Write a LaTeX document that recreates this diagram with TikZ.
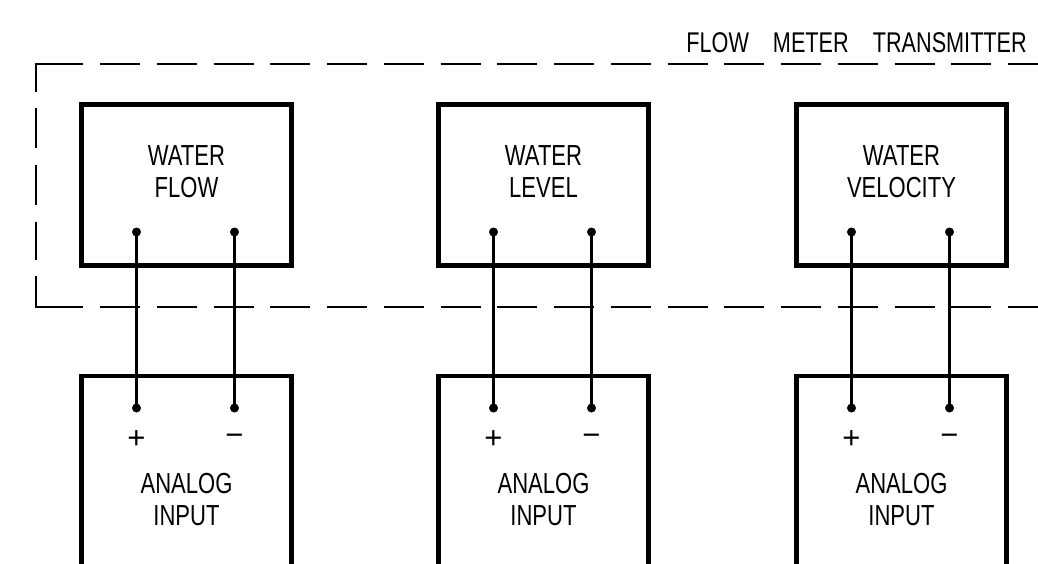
\documentclass[tikz,border=0pt]{standalone}
\usepackage{fontspec}
\setmainfont[FakeStretch=0.76]{Liberation Sans}
\newfontfamily\signfont{Liberation Sans}
\begin{document}
\begin{tikzpicture}[x=1pt,y=-1pt,
  box/.style={draw,line width=4.2pt,minimum width=210pt,inner sep=0pt},
  topbox/.style={box,minimum height=161pt},
  botbox/.style={box,minimum height=220pt},
  wire/.style={line width=2.2pt},
  frame/.style={line width=2.6pt},
  framedash/.style={frame,dash pattern=on 40pt off 16.75pt},
  dot/.style={circle,fill,inner sep=0pt,minimum size=9pt},
  lbl/.style={font=\fontsize{29}{31.5}\selectfont,align=center,inner sep=0pt},
  sgn/.style={font=\signfont\fontsize{31}{31}\selectfont,inner sep=0pt}]
\clip (0,0) rectangle (1038,563);
\useasboundingbox (0,0) rectangle (1038,563);
% dashed frame of the transmitter
\draw[frame] (83,64) -- (36,64) -- (36,92);
\draw[framedash] (100,64) -- (1040,64);
\draw[framedash] (36,108) -- (36,260);
\draw[frame] (36,276) -- (36,307) -- (83,307);
\draw[framedash] (100,307) -- (1040,307);
\node[font=\fontsize{28.5}{29}\selectfont,anchor=base east,inner sep=0pt] (title) at (1027,52)
  {FLOW\hspace{24pt}METER\hspace{24pt}TRANSMITTER};
% columns
\foreach \i/\cx/\txt in {1/186.5/{WATER\\FLOW},2/543.5/{WATER\\LEVEL},3/901.5/{WATER\\VELOCITY}}{
  \node[topbox] (t\i) at (\cx,185) {};
  \node[botbox] (b\i) at (\cx,486) {};
  \node[lbl] (tl\i) at (\cx,171.5) {\txt};
  \node[lbl] (bl\i) at (\cx,499.5) {ANALOG\\INPUT};
  \coordinate (tp\i) at (\cx-50,232);
  \coordinate (tm\i) at (\cx+48,232);
  \coordinate (bp\i) at (\cx-50,408);
  \coordinate (bm\i) at (\cx+48,408);
  \draw[wire] (tp\i) -- (bp\i);
  \draw[wire] (tm\i) -- (bm\i);
  \node[dot] (dtp\i) at (tp\i) {};
  \node[dot] (dtm\i) at (tm\i) {};
  \node[dot] (dbp\i) at (bp\i) {};
  \node[dot] (dbm\i) at (bm\i) {};
  \node[sgn] (plus\i) at (\cx-50,440) {+};
  \node[sgn] (minus\i) at (\cx+48,440) {−};
}
\end{tikzpicture}
\end{document}
